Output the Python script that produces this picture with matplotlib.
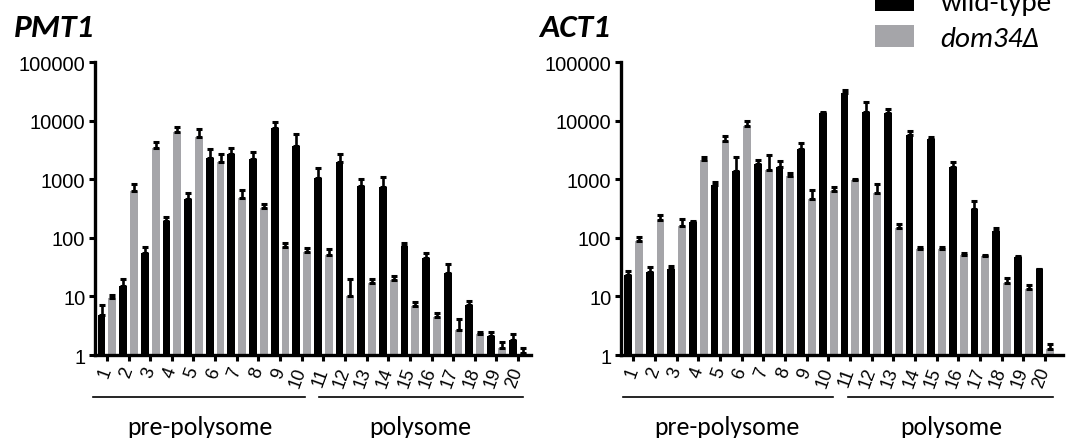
import numpy as np
import matplotlib
matplotlib.use("Agg")
import matplotlib.pyplot as plt
from matplotlib.transforms import blended_transform_factory

# fraction numbers on the x axis
fractions = list(range(1, 21))
tick_labels = [str(f) for f in fractions]

# PMT1 values (mean and top of error bar)
pmt1_wt = [4.9, 15, 56, 192, 470, 2300, 2700, 2200, 7600, 3700,
           1060, 2000, 765, 740, 73, 44.5, 25, 7.1, 2.08, 1.82]
pmt1_wt_top = [7.1, 19.7, 71, 230, 590, 3320, 3400, 2900, 9700, 5900,
               1580, 2700, 1020, 1100, 81, 56, 36, 8.5, 2.5, 2.25]
pmt1_dom = [9.4, 640, 3400, 6500, 5350, 2000, 485, 320, 69, 58,
            51, 10.2, 17.3, 19, 6.9, 4.5, 2.7, 2.25, 1.3, 1.08]
pmt1_dom_top = [10.6, 830, 4400, 7750, 7100, 2760, 650, 380, 83, 67,
                64, 19.7, 19.7, 22.4, 8.1, 5.3, 4.2, 2.5, 1.65, 1.33]

# ACT1 values
act1_wt = [23.3, 26.3, 30, 190, 815, 1400, 1860, 1610, 3320, 13600,
           29900, 14200, 13600, 5640, 4900, 1630, 307, 131, 48, 29]
act1_wt_top = [27.7, 31.5, 33, 195, 895, 2420, 2130, 2090, 4200, 14000,
               33000, 21000, 16100, 6800, 5350, 2000, 420, 150, 49, 29.5]
act1_dom = [90, 200, 160, 2130, 4600, 8100, 1440, 1130, 470, 640,
            970, 590, 146, 64, 64, 51, 49, 17.3, 13.3, 1.27]
act1_dom_top = [102, 250, 208, 2420, 5600, 9960, 2580, 1290, 670, 750,
                1000, 840, 170, 71, 69, 55, 52, 20.3, 15.6, 1.52]

yticks = [1, 10, 100, 1000, 10000, 100000]
ytick_labels = ["1", "10", "100", "1000", "10000", "100000"]

BLACK = "#000000"
GREY = "#a5a5a9"
SANS = ["Carlito", "Open Sans", "DejaVu Sans"]

fig = plt.figure(figsize=(10.75, 4.39), dpi=100)
ax1 = fig.add_axes([0.0884, 0.189, 0.4056, 0.667])
ax2 = fig.add_axes([0.5777, 0.189, 0.4110, 0.667])


def draw_panel(ax, title, wt, wt_top, dom, dom_top, xlim, brackets):
    x = np.array(fractions, dtype=float)
    wt = np.array(wt)
    dom = np.array(dom)
    ax.set_yscale("log")
    b1 = ax.bar(x - 0.25, wt, width=0.36, color=BLACK, label="wild-type")
    b2 = ax.bar(x + 0.25, dom, width=0.36, color=GREY, label="dom34\u0394")
    ekw = dict(fmt="none", ecolor="black", elinewidth=1.9, capsize=2.4, capthick=2.2)
    ax.errorbar(x - 0.25, wt, yerr=[np.zeros(20), np.array(wt_top) - wt], **ekw)
    ax.errorbar(x + 0.25, dom, yerr=[np.zeros(20), np.array(dom_top) - dom], **ekw)

    ax.set_ylim(1, 100000)
    ax.set_xlim(*xlim)
    ax.yaxis.set_major_locator(matplotlib.ticker.FixedLocator(yticks))
    ax.yaxis.set_minor_locator(matplotlib.ticker.NullLocator())
    ax.set_yticklabels(ytick_labels, fontsize=14.5, family="Liberation Sans")
    ax.set_xticks(x)
    ax.set_xticklabels(tick_labels, fontsize=13, family="Liberation Sans",
                       rotation=70, ha="right", va="center", rotation_mode="anchor")
    ax.tick_params(axis="both", width=2.2, length=4, pad=3)
    ax.tick_params(axis="x", pad=5)
    for s in ["top", "right"]:
        ax.spines[s].set_visible(False)
    for s in ["left", "bottom"]:
        ax.spines[s].set_linewidth(2.4)

    ax.text(-0.185, 1.089, title, transform=ax.transAxes, fontsize=24,
            fontweight="bold", style="italic", family=SANS, ha="left", va="baseline")

    # fraction groups under the axis
    tr = blended_transform_factory(ax.transData, ax.transAxes)
    for (x0, x1, xc, label) in brackets:
        ax.plot([x0, x1], [-0.142, -0.142], color="black", lw=1.2,
                transform=tr, clip_on=False)
        ax.text(xc, -0.243, label, transform=tr, fontsize=18.5, family=SANS,
                ha="center", va="center")
    return b1, b2


draw_panel(ax1, "PMT1", pmt1_wt, pmt1_wt_top, pmt1_dom, pmt1_dom_top,
           (0.45, 20.6),
           [(0.35, 10.14, 5.3, "pre-polysome"), (10.78, 20.24, 15.5, "polysome")])
h1, h2 = draw_panel(ax2, "ACT1", act1_wt, act1_wt_top, act1_dom, act1_dom_top,
                    (0.43, 20.83),
                    [(0.52, 10.2, 5.3, "pre-polysome"), (10.9, 20.36, 15.66, "polysome")])

leg = fig.legend(handles=[h1, h2], loc="upper left", bbox_to_anchor=(0.814, 1.024),
                 frameon=False, borderpad=0, borderaxespad=0,
                 handlelength=1.35, handleheight=0.8, handletextpad=0.9,
                 labelspacing=0.34, prop={"family": SANS, "size": 21, "style": "italic"})
leg.get_texts()[0].set_style("normal")

fig.savefig("out.png", dpi=100)
